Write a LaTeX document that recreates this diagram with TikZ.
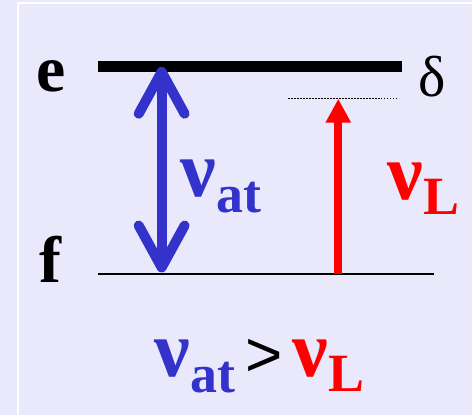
\documentclass[tikz,border=0pt]{standalone}
\usepackage{fontspec}
\setmainfont{Liberation Serif}
\newfontfamily\gtfont{Liberation Sans}
\usetikzlibrary{arrows.meta}
\definecolor{bgviolet}{HTML}{E9E9FB}
\definecolor{atblue}{HTML}{3333CC}
\definecolor{lasred}{HTML}{FF0000}
\newcommand{\nuat}{{\fontsize{80}{80}\selectfont\bfseries ν}\raisebox{-16pt}{\fontsize{54}{54}\selectfont\bfseries at}}
\newcommand{\nuL}{{\fontsize{80}{80}\selectfont\bfseries ν}\raisebox{-15pt}{\fontsize{54}{54}\selectfont\bfseries L}}
\tikzset{
  lvl/.style={line width=11pt, black},
  gnd/.style={line width=2pt, black},
  virt/.style={line width=1.3pt, dash pattern=on 1.3pt off 1.7pt},
  atarr/.style={atblue, line width=10pt,
    {Straight Barb[length=42pt,width=46pt,round]}-{Straight Barb[length=42pt,width=46pt,round]}},
  lasarr/.style={lasred, line width=8pt, -{Triangle[length=24pt,width=24pt]}},
  lbl/.style={inner sep=0pt, anchor=base},
}

\begin{document}
\begin{tikzpicture}[x=1pt, y=-1pt]
  % background and frame
  \fill[bgviolet] (0,0) rectangle (473,416);
  \draw[white, line width=2pt] (18.3,416) -- (18.3,3) -- (473,3);

  % levels
  \coordinate (eL) at (98,66.5);
  \coordinate (eR) at (403,66.5);
  \coordinate (fL) at (98,275);
  \coordinate (fR) at (435,275);
  \coordinate (vL) at (289,99);
  \coordinate (vR) at (400,99);
  \draw[lvl]  (eL) -- (eR);
  \draw[gnd]  (fL) -- (fR);
  \draw[virt] (vL) -- (vR);

  \node[lbl, font=\fontsize{66}{66}\selectfont\bfseries] (e) at (51.5,92) {e};
  \node[lbl, font=\fontsize{66}{66}\selectfont\bfseries] (f) at (50.5,283) {f};
  \node[lbl, font=\fontsize{58}{58}\selectfont] (delta) at (433,97) {δ};

  % transitions
  \coordinate (atTop) at (162,67);
  \coordinate (atBot) at (162,273);
  \coordinate (lasBot) at (339,275);
  \coordinate (lasTop) at (339,99);
  \draw[atarr]  (atTop) -- (atBot);
  \draw[lasarr] (lasBot) -- (lasTop);

  \node[lbl, anchor=base west, text=atblue] (nuat) at (181,197) {\nuat};
  \node[lbl, anchor=base west, text=lasred] (nuL) at (388,200) {\nuL};

  % comparison
  \node[lbl] (cmp) at (260,377) {\textcolor{atblue}{\nuat}\hspace{10pt}{\gtfont\fontsize{64}{64}\selectfont >}\hspace{10pt}\textcolor{lasred}{\nuL}};
\end{tikzpicture}
\end{document}
